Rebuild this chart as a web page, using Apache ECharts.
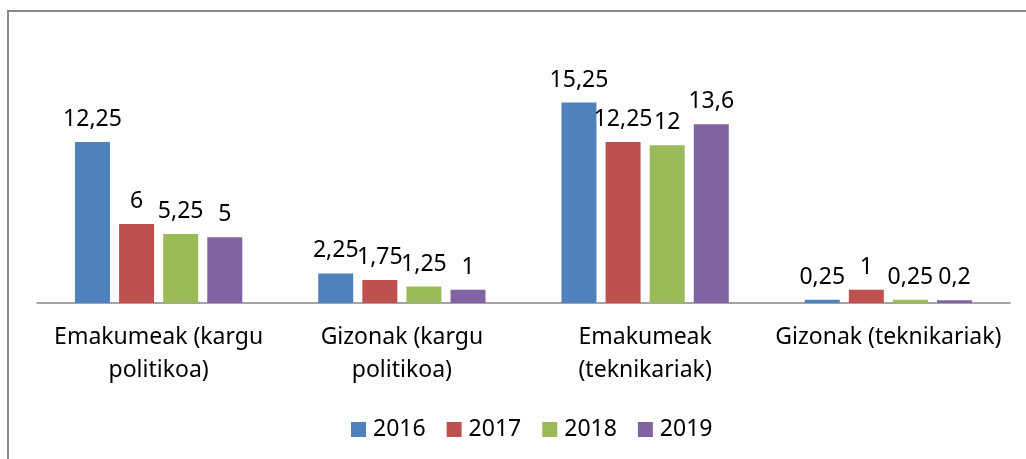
<!DOCTYPE html>
<html><head><meta charset="utf-8">
<style>
html,body{margin:0;padding:0;background:#fff;}
#frame{position:absolute;left:7px;top:10px;width:1030px;height:460px;border-left:2px solid #898989;border-top:2px solid #898989;}
#c{position:absolute;left:0;top:0;width:1026px;height:459px;}
</style>
<script src="https://cdn.jsdelivr.net/npm/echarts@6/dist/echarts.min.js"></script>
</head><body>
<div id="frame"></div>
<div id="c"></div>
<script>
const categories = ["Emakumeak (kargu\npolitikoa)", "Gizonak (kargu\npolitikoa)", "Emakumeak\n(teknikariak)", "Gizonak (teknikariak)"];
const years = ["2016", "2017", "2018", "2019"];
const v2016 = [12.25, 2.25, 15.25, 0.25];
const v2017 = [6, 1.75, 12.25, 1];
const v2018 = [5.25, 1.25, 12, 0.25];
const v2019 = [5, 1, 13.6, 0.2];
const colors = ["#4F81BD", "#C0504D", "#9BBB59", "#8064A2"];
const seriesValues = [v2016, v2017, v2018, v2019];

const font = "Noto Sans";
const chart = echarts.init(document.getElementById('c'));
chart.setOption({
  animation: false,
  grid: {left: 37, right: 16, top: 40, bottom: 156},
  legend: {
    left: 346, top: 413, itemWidth: 15, itemHeight: 15, itemGap: 21, icon: 'rect',
    textStyle: {fontFamily: font, fontSize: 23, color: '#000', padding: [0,0,0,2]},
    data: years
  },
  xAxis: {
    type: 'category', data: categories,
    axisLine: {lineStyle: {color: '#868686', width: 1.5}},
    axisTick: {show: false},
    axisLabel: {fontFamily: font, fontSize: 23, color: '#000', lineHeight: 33, margin: 18, interval: 0}
  },
  yAxis: {type: 'value', min: 0, max: 20, show: false, splitLine: {show: false}},
  series: years.map((y, i) => ({
    name: y, type: 'bar', data: seriesValues[i], barWidth: 35, barGap: '26%',
    itemStyle: {color: colors[i]},
    label: {show: true, position: 'top', distance: 11, fontFamily: font, fontSize: 23, color: '#000',
      formatter: p => String(p.value).replace('.', ',')}
  }))
});
</script>
</body></html>
